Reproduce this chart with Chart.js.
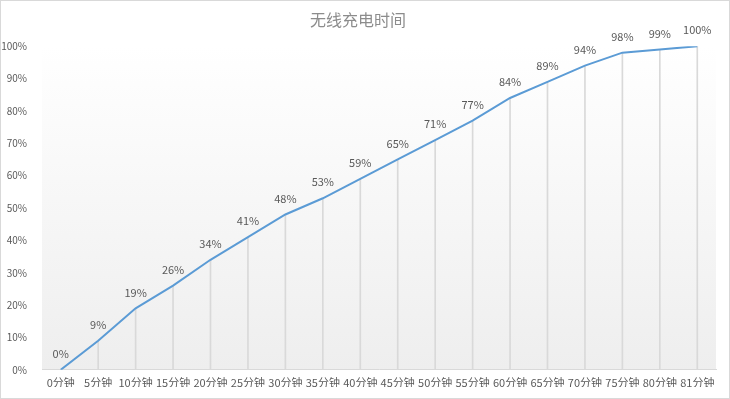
<!DOCTYPE html>
<html>
<head>
<meta charset="utf-8">
<script src="https://cdn.jsdelivr.net/npm/chart.js@4"></script>
<style>
html,body{margin:0;padding:0;background:#fff;}
#wrap{width:730px;height:399px;position:relative;}
</style>
</head>
<body>
<div id="wrap"><canvas id="c" width="730" height="399"></canvas></div>
<script>
const categories = ["0分钟","5分钟","10分钟","15分钟","20分钟","25分钟","30分钟","35分钟","40分钟","45分钟","50分钟","55分钟","60分钟","65分钟","70分钟","75分钟","80分钟","81分钟"];
const chargeValues = [0,9,19,26,34,41,48,53,59,65,71,77,84,89,94,98,99,100];
const yTicks = [0,10,20,30,40,50,60,70,80,90,100];
const chartTitle = "无线充电时间";

const FONT = "'Noto Sans CJK SC', 'Noto Sans', sans-serif";

const bgPlugin = {
  id: 'bg',
  beforeDraw(chart) {
    const {ctx, chartArea: a} = chart;
    ctx.save();
    const g = ctx.createLinearGradient(0, a.top, 0, a.bottom);
    g.addColorStop(0, '#ffffff');
    g.addColorStop(1, '#eeeeee');
    ctx.fillStyle = g;
    ctx.fillRect(a.left, a.top, a.right - a.left, a.bottom - a.top);
    ctx.restore();
  },
  afterDraw(chart) {
    const ctx = chart.ctx;
    ctx.save();
    ctx.strokeStyle = '#d9d9d9';
    ctx.lineWidth = 1;
    ctx.strokeRect(0.5, 0.5, chart.width - 1, chart.height - 1);
    ctx.restore();
  }
};

const labelPlugin = {
  id: 'pointLabels',
  afterDatasetsDraw(chart) {
    const meta = chart.getDatasetMeta(1);
    const ctx = chart.ctx;
    ctx.save();
    ctx.font = "11px " + FONT;
    ctx.fillStyle = '#595959';
    ctx.textAlign = 'center';
    ctx.textBaseline = 'middle';
    meta.data.forEach((pt, i) => {
      ctx.fillText(chargeValues[i] + '%', pt.x, pt.y - 16);
    });
    ctx.restore();
  }
};

new Chart(document.getElementById('c'), {
  type: 'bar',
  data: {
    labels: categories,
    datasets: [
      {
        type: 'bar',
        data: chargeValues,
        backgroundColor: '#d9d9d9',
        barThickness: 1,
        order: 2
      },
      {
        type: 'line',
        data: chargeValues,
        borderColor: '#5b9bd5',
        borderWidth: 2,
        pointRadius: 0,
        tension: 0,
        order: 1
      }
    ]
  },
  options: {
    responsive: false,
    animation: false,
    layout: { padding: { left: 0, right: 14, top: 0, bottom: 12 } },
    plugins: {
      legend: { display: false },
      tooltip: { enabled: false },
      title: {
        display: true,
        text: chartTitle,
        color: '#8c8c8c',
        font: { family: FONT, size: 16, weight: 'normal' },
        padding: { top: 10, bottom: 17 }
      }
    },
    scales: {
      x: {
        offset: true,
        grid: { display: false },
        border: { display: true, color: '#d9d9d9' },
        ticks: { color: '#595959', font: { family: FONT, size: 11 }, maxRotation: 0, autoSkip: false, padding: -2 }
      },
      y: {
        min: 0,
        max: 100,
        afterFit(scale) { scale.width = 42; },
        afterBuildTicks(scale) { scale.ticks = yTicks.map(v => ({ value: v })); },
        grid: { display: false },
        border: { display: false },
        ticks: {
          color: '#595959',
          font: { family: FONT, size: 10 },
          padding: 7,
          callback: v => v + '%'
        }
      }
    }
  },
  plugins: [bgPlugin, labelPlugin]
});
</script>
</body>
</html>
